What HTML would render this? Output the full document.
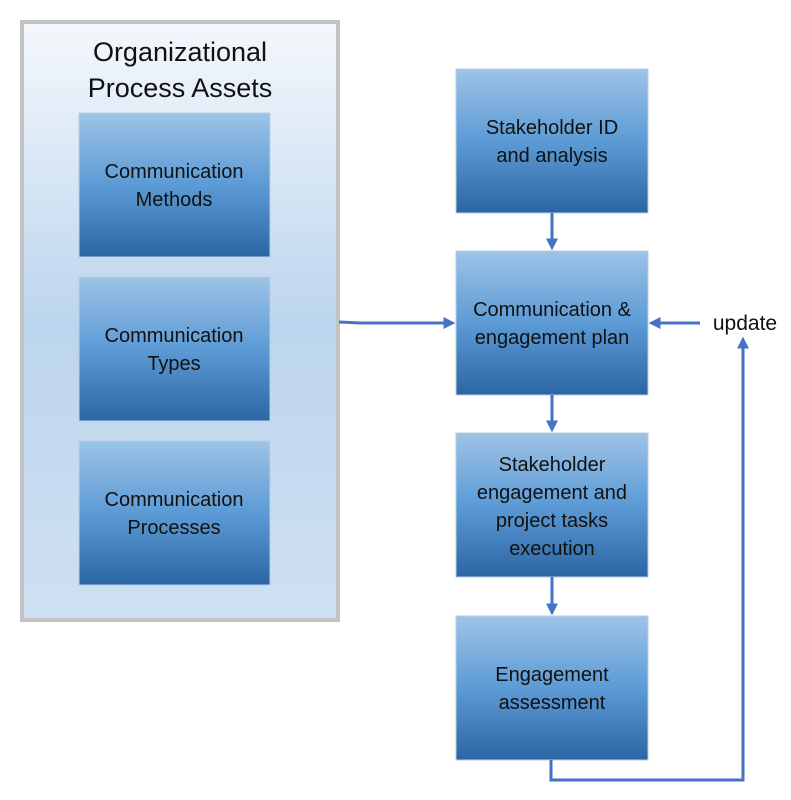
<!DOCTYPE html>
<html><head><meta charset="utf-8"><style>
html,body{margin:0;padding:0;background:#fff;}
svg{display:block;}
text{font-family:"Liberation Sans",sans-serif;fill:#111;text-anchor:middle;}
</style></head><body>
<svg width="791" height="800" viewBox="0 0 791 800" xmlns="http://www.w3.org/2000/svg">
<defs>
<linearGradient id="bg" x1="0" y1="0" x2="0" y2="1">
<stop offset="0" stop-color="#f4f8fc"/><stop offset="0.5" stop-color="#bcd5ee"/><stop offset="1" stop-color="#cfe0f2"/>
</linearGradient>
<linearGradient id="bx" x1="0" y1="0" x2="0" y2="1">
<stop offset="0" stop-color="#9ec3e6"/><stop offset="0.5" stop-color="#5c9bd6"/><stop offset="1" stop-color="#2c65a3"/>
</linearGradient>
<marker id="ah" markerWidth="4" markerHeight="4" refX="3.2" refY="2" orient="auto" markerUnits="strokeWidth">
<path d="M0,0 L4,2 L0,4 z" fill="#4472c4"/>
</marker>
</defs>
<rect x="22" y="22" width="316" height="598" fill="url(#bg)" stroke="#c3c3c3" stroke-width="4"/>
<text x="180" y="61" font-size="27">Organizational</text>
<text x="180" y="97" font-size="27">Process Assets</text>

<g stroke="#b8cfe6" stroke-width="1">
<rect x="79" y="113" width="191" height="144" fill="url(#bx)"/>
<rect x="79" y="277" width="191" height="144" fill="url(#bx)"/>
<rect x="79" y="441" width="191" height="144" fill="url(#bx)"/>
<rect x="456" y="69" width="192" height="144" fill="url(#bx)"/>
<rect x="456" y="251" width="192" height="144" fill="url(#bx)"/>
<rect x="456" y="433" width="192" height="144" fill="url(#bx)"/>
<rect x="456" y="616" width="192" height="144" fill="url(#bx)"/>
</g>

<g font-size="20">
<text x="174" y="178">Communication</text><text x="174" y="206">Methods</text>
<text x="174" y="342">Communication</text><text x="174" y="370">Types</text>
<text x="174" y="506">Communication</text><text x="174" y="534">Processes</text>
<text x="552" y="134">Stakeholder ID</text><text x="552" y="162">and analysis</text>
<text x="552" y="316">Communication &amp;</text><text x="552" y="344">engagement plan</text>
<text x="552" y="471">Stakeholder</text><text x="552" y="499">engagement and</text><text x="552" y="527">project tasks</text><text x="552" y="555">execution</text>
<text x="552" y="681">Engagement</text><text x="552" y="709">assessment</text>
<text x="745" y="330" font-size="21">update</text>
</g>

<g stroke="#4472c4" stroke-width="3" fill="none">
<path d="M552,213 L552,248" marker-end="url(#ah)"/>
<path d="M552,395 L552,430" marker-end="url(#ah)"/>
<path d="M552,577 L552,613" marker-end="url(#ah)"/>
<path d="M339,322 L360,323 L453,323" marker-end="url(#ah)"/>
<path d="M700,323 L651,323" marker-end="url(#ah)"/>
<path d="M551,760 L551,780 L743,780 L743,339" marker-end="url(#ah)"/>
</g>
</svg>
</body></html>
